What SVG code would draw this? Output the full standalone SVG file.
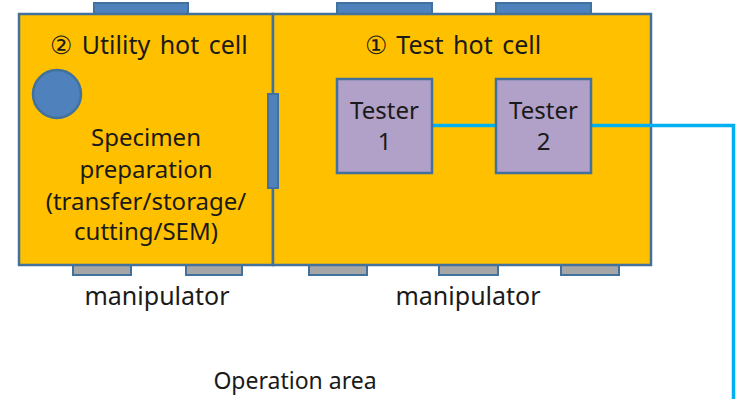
<svg xmlns="http://www.w3.org/2000/svg" width="742" height="399" viewBox="0 0 742 399">
<style>
.t{font-family:"Noto Sans","Open Sans","Liberation Sans",sans-serif;font-size:24px;fill:#1a1a1a;text-anchor:middle}
.ws{font-size:25px;word-spacing:3px}
.cell{fill:#FFC000;stroke:#41719C;stroke-width:2.5}
.tab{fill:#4F81BD;stroke:#41719C;stroke-width:2}
.man{fill:#A6A6A6;stroke:#41719C;stroke-width:2}
.tester{fill:#B1A0C7;stroke:#41719C;stroke-width:2.5}
.wire{fill:none;stroke:#00B0F0;stroke-width:3.5}
</style>
<rect width="742" height="399" fill="#ffffff"/>
<g id="tabs">
<rect class="tab" x="94" y="3" width="94" height="12"/>
<rect class="tab" x="337" y="3" width="95" height="12"/>
<rect class="tab" x="496" y="3" width="95" height="12"/>
<rect class="man" x="73" y="264" width="58" height="11"/>
<rect class="man" x="186" y="264" width="56" height="11"/>
<rect class="man" x="309" y="264" width="58" height="11"/>
<rect class="man" x="439" y="264" width="59" height="11"/>
<rect class="man" x="561" y="264" width="58" height="11"/>
</g>
<g id="utility-cell">
<rect class="cell" x="19" y="14" width="254" height="251"/>
<text class="t ws" x="149" y="54">② Utility hot cell</text>
<circle cx="57" cy="94" r="24" fill="#4F81BD" stroke="#41719C" stroke-width="2.5"/>
<text class="t" x="146" y="146">Specimen</text>
<text class="t" x="146" y="178">preparation</text>
<text class="t" x="146" y="210">(transfer/storage/</text>
<text class="t" x="146" y="240">cutting/SEM)</text>
</g>
<g id="test-cell">
<rect class="cell" x="273" y="14" width="378" height="251"/>
<text class="t ws" x="453" y="54">① Test hot cell</text>
</g>
<g id="door">
<rect class="tab" x="268" y="94" width="10" height="94"/>
</g>
<g id="connectors">
<path class="wire" d="M432 125.5H496"/>
<path class="wire" d="M591 125.5H733.5V399"/>
</g>
<g id="tester1">
<rect class="tester" x="337" y="79" width="95" height="94"/>
<text class="t" x="384.5" y="119">Tester</text>
<text class="t" x="384.5" y="150">1</text>
</g>
<g id="tester2">
<rect class="tester" x="496" y="79" width="95" height="94"/>
<text class="t" x="543.5" y="119">Tester</text>
<text class="t" x="543.5" y="150">2</text>
</g>
<g id="labels">
<text class="t" x="157" y="305" style="font-size:25px">manipulator</text>
<text class="t" x="468" y="305" style="font-size:25px">manipulator</text>
<text class="t" x="295" y="389" style="font-size:23px">Operation area</text>
</g>
</svg>
